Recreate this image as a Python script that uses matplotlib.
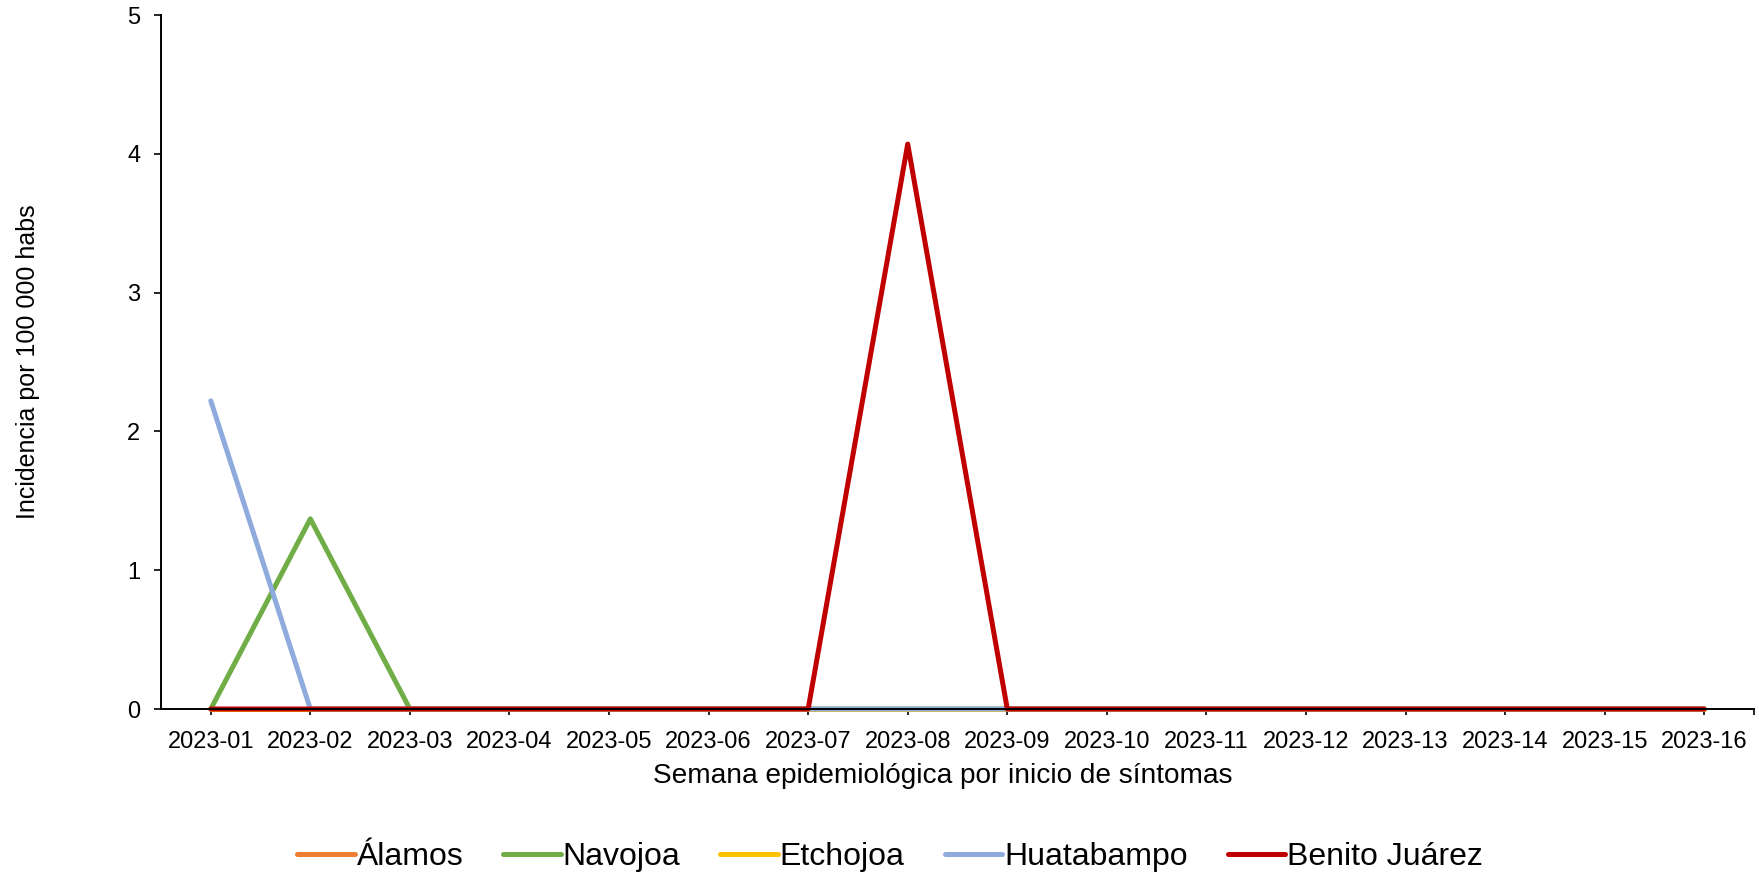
import matplotlib
matplotlib.use("Agg")
import matplotlib.pyplot as plt

plt.rcParams['font.family'] = ['Liberation Sans', 'DejaVu Sans']

weeks = [f"2023-{i:02d}" for i in range(1, 17)]
alamos = [0] * 16
navojoa = [0, 1.37, 0, 0, 0, 0, 0, 0, 0, 0, 0, 0, 0, 0, 0, 0]
etchojoa = [0] * 16
huatabampo = [2.22, 0, 0, 0, 0, 0, 0, 0, 0, 0, 0, 0, 0, 0, 0, 0]
benito_juarez = [0, 0, 0, 0, 0, 0, 0, 4.07, 0, 0, 0, 0, 0, 0, 0, 0]

series = [
    ("Álamos", alamos, "#ED7D31"),
    ("Navojoa", navojoa, "#70AD47"),
    ("Etchojoa", etchojoa, "#FFC000"),
    ("Huatabampo", huatabampo, "#8FAADC"),
    ("Benito Juárez", benito_juarez, "#C00000"),
]

fig = plt.figure(figsize=(17.59, 8.75), dpi=100)
ax = fig.add_axes([161/1759, 1-709/875, (1754-161)/1759, (709-15)/875])

x = list(range(len(weeks)))
for name, vals, col in series:
    ax.plot(x, vals, color=col, lw=3.6, label=name, clip_on=False,
            solid_joinstyle='round', solid_capstyle='round')

ax.set_xlim(-0.5, 15.5)
ax.set_ylim(0, 5)
ax.set_yticks(range(0, 6))
ax.set_xticks(x + [15.5])
ax.set_xticklabels(weeks + [''])
for s in ['top', 'right']:
    ax.spines[s].set_visible(False)
for s in ['left', 'bottom']:
    ax.spines[s].set_linewidth(1.4)
ax.tick_params(axis='x', length=4, width=1.2, pad=12, labelsize=17)
ax.tick_params(axis='y', length=5, width=1.2, pad=10, labelsize=17)
ax.set_xlabel("Semana epidemiológica por inicio de síntomas", fontsize=20.2)
ax.xaxis.set_label_coords((943-161)/1593, -(763-709)/694)
ax.set_ylabel("Incidencia por 100 000 habs", fontsize=18)
ax.yaxis.set_label_coords(-121/1593, 0.5)

fig.legend(loc='center', bbox_to_anchor=(890/1759, 1-857/875), ncol=5,
           frameon=False, fontsize=23, handlelength=1.8, handletextpad=0.06,
           columnspacing=1.25)

fig.savefig("out.png", dpi=100)
